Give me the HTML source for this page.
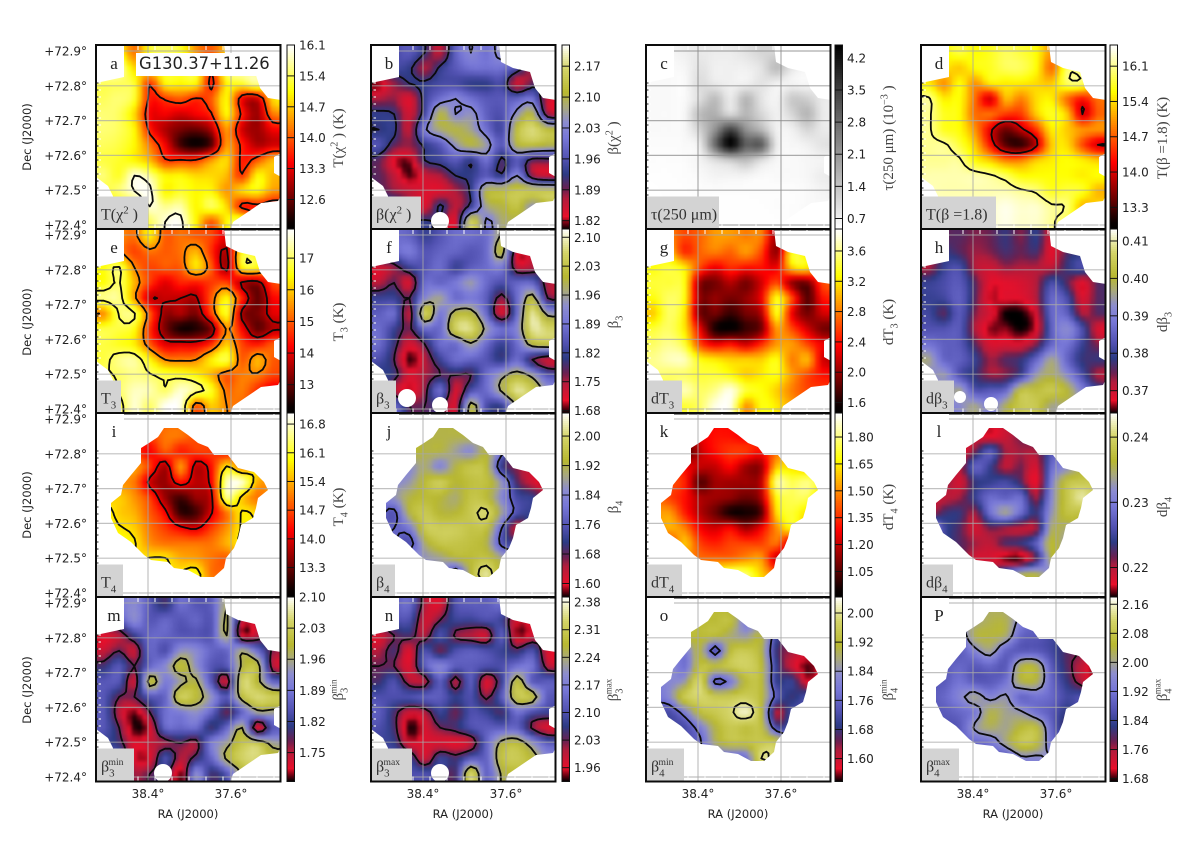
<!DOCTYPE html>
<html lang="en">
<head>
<meta charset="utf-8">
<title>G130.37+11.26 dust temperature and spectral index maps</title>
<style>
html,body{margin:0;padding:0;background:#fff;}
svg{display:block;}
</style>
</head>
<body>
<svg id="figure" xmlns="http://www.w3.org/2000/svg" width="1200" height="842" viewBox="0 0 1200 842">
<defs>
<filter id="soft" x="-10%" y="-10%" width="120%" height="120%" color-interpolation-filters="sRGB"><feGaussianBlur stdDeviation="1.7"/></filter>
<clipPath id="footprint-large"><polygon points="28,0 128,0 130,17 142,23 159,27 164,43 172,53 185,55 185,108 178,112 178,128 185,132 185,150 182,156 165,158 137,177 134,185 17,185 17,151 12,141 0,132 0,38 28,32"/></clipPath>
<clipPath id="footprint-small"><polygon points="68,15 82,15 92,22 102,30 112,34 118,42 132,42 142,55 158,59 168,69 172,77 162,85 160,95 157,105 145,112 142,125 138,135 130,145 128,155 118,164 105,164 92,157 78,155 72,149 55,147 48,142 35,129 22,120 15,105 15,90 25,82 27,72 35,62 45,50 45,35 53,30 62,24"/></clipPath>
</defs>
</svg>
<script>
const _ = null;

/* ---------- map values (12 x 12 coarse grid) ---------- */
const valuesA = [
[_,_,14.2,15.2,15.4,15.2,14.4,14.0,_,_,_,_],
[16,15.8,14.8,15,15.2,15.2,15.2,13.8,15.6,15.8,_,_],
[15.4,15.4,15.2,13.8,15,15,15,13.6,15,15.2,15.6,_],
[15.4,15.5,15.2,13.6,13.8,14,13.7,14,15,13.4,13.2,14.8],
[15.5,15.4,14.8,13.4,13.4,13.2,13.4,13.7,15,13.6,12.9,14.2],
[15.5,15.4,15,13.6,13,12.7,12.6,13,14.4,13.2,12.9,13.4],
[15.4,15.3,15,14.2,13.4,12.4,12.1,12.5,14.4,13.6,13,13.2],
[15.3,15.2,15,14.6,13.8,13.8,13.8,14.4,14.8,13.6,14,14.6],
[15.5,15.2,15.9,15.6,15,15,14.8,14.8,14.6,13.8,15,14.6],
[_,15.5,15.9,16,15,15.2,15,15,14.4,14.8,15,14.4],
[15,15,15.3,15.9,15.6,15.7,15,15.4,14.8,13.6,13.6,13.4],
[15,15,15,15.4,15.9,16,15,14,15,15.5,_,_]];
const valuesB = [
[_,1.95,1.97,1.92,1.86,1.98,2.03,2,2.05,_,_,_],
[1.95,1.95,1.93,1.87,1.93,1.97,2,2,2,_,_,_],
[1.82,1.88,1.92,1.93,1.95,1.95,1.93,1.93,1.95,1.85,1.9,_],
[1.87,1.88,1.84,1.94,2,2.03,2,1.97,1.97,1.98,2,1.85],
[1.93,1.92,1.85,1.95,2.1,2.03,2.05,1.98,1.96,2.05,2.1,1.88],
[1.92,1.93,1.86,2.02,2.08,2.1,2.07,2,1.95,2.12,2.17,2.12],
[1.96,1.9,1.88,1.93,1.97,2.05,2.1,2.06,1.97,2.1,2.12,2.1],
[1.9,1.83,1.82,1.92,1.94,1.97,1.93,2,1.91,1.97,1.9,1.9],
[1.9,1.86,1.81,1.85,1.87,1.92,1.93,1.97,1.93,2.03,1.88,1.85],
[_,1.88,1.86,1.84,1.84,1.87,1.93,2.1,2.12,2.14,2.14,2.14],
[1.95,1.95,1.88,1.84,1.93,1.86,1.94,2.07,2.1,2.13,2.05,_],
[1.95,1.95,1.92,1.93,1.9,1.84,2.15,2.02,2.08,_,_,_]];
const valuesC = [
[_,_,.7,.8,.75,.75,.9,1.1,_,_,_,_],
[.55,.55,.6,.9,.7,.7,.7,.9,1.5,_,_,_],
[.55,.55,.55,1,.8,.7,.7,.9,.7,.65,.6,_],
[.55,.55,.55,1,1.5,.8,1.6,.9,.65,1.3,1.2,.8],
[.55,.55,.6,1.5,1.7,1.1,1.6,1.1,.7,1.1,1.6,.8],
[.55,.55,.6,1.2,2.2,3.4,2.2,1.6,.7,.7,1.1,.8],
[.52,.52,.55,.8,2.8,4.4,3,3,.8,.6,.7,.9],
[.5,.5,.52,.65,1,1.3,1.5,1,.6,.55,.6,.65],
[.48,.48,.5,.55,.65,.65,.65,.55,.55,.55,.6,.75],
[_,.48,.48,.5,.5,.5,.5,.5,.5,.5,.55,.65],
[.48,.48,.48,.48,.48,.48,.48,.48,.5,.5,.55,_],
[.48,.48,.48,.48,.48,.48,.48,.48,.48,_,_,_]];
const valuesD = [
[_,_,15.8,15.6,15.7,15.9,15.8,15.6,15,_,_,_],
[_,_,15.3,15.6,15.7,15.9,15.9,15.6,14.8,15.9,_,_],
[15.5,15,15.6,15,15.5,15.5,15.5,15.4,15.3,15.9,15.9,_],
[16.1,15.5,15.6,14.8,14,15.2,14.9,15.4,15.5,14.8,14.3,14.8],
[16.1,15.7,15.6,14.8,14.8,14.5,14.5,15.3,15.7,15.3,14,14.7],
[16.1,15.7,15.6,15,14.1,13.5,13.9,14.5,15.5,15.3,15,15],
[16.1,16.1,15.8,15.3,14.3,13.4,13.2,13.9,15.3,15.4,14.6,14],
[16.1,16.1,16.1,15.6,15.3,14.9,14.9,15.3,15.5,15.6,15.5,15.3],
[16.2,16.2,16.2,16.2,16.1,15.9,15.6,15.6,15.6,15.6,15.5,15.6],
[_,16.2,16.2,16.2,16.2,16.2,16.1,16,15.7,15.8,15.7,15.2],
[16.3,16.3,16.3,16.3,16.3,16.4,16.3,16.3,16.1,16,15.2,_],
[16.3,16.3,16.3,16.3,16.3,16.4,16.3,16.3,16.1,_,_,_]];
const valuesE = [
[_,_,15.2,16.3,15,15.2,15,14.8,14,_,_,_],
[16.5,15.5,14.8,15.2,15,15.2,15.8,14.6,13.6,16.5,_,_],
[16.5,17,15.4,14.8,15,15,16.2,15,13.5,16.4,16.5,_],
[16.5,17,15.8,14.7,14,14.5,14.4,14.7,14.8,13.6,13.4,14.8],
[17.2,17.2,15.6,13.8,13.8,13.7,13.6,15,16.4,14.5,13,14.2],
[15.5,17,17,15,13.4,13.6,13.2,14.8,16.6,13.5,13.2,14],
[16.8,16.8,16.5,14.6,13.2,12.4,12.5,13.2,15.5,14.2,13,13.6],
[16.8,16.6,16.3,15,14,14,14,14.6,16,14.8,14.4,15],
[16.8,17.2,17.3,16.4,15.4,15.3,15.4,16.3,16.8,15,15.8,15],
[_,17,17.2,17,16.8,16.7,16.4,15.8,15,15.3,15.3,14.8],
[16.5,17,17.5,17.4,17,17.6,17.2,16.6,15.2,15.3,14.6,14],
[16.5,16.7,17.6,17,17.8,17.7,15,16,15.4,_,_,_]];
const valuesF = [
[_,1.88,1.87,1.82,1.85,1.88,1.88,1.88,1.98,_,_,_],
[1.86,1.87,1.9,1.85,1.87,1.87,1.85,1.88,2,1.72,_,_],
[1.72,1.76,1.82,1.85,1.88,1.82,1.86,1.88,1.9,1.74,1.75,_],
[1.74,1.78,1.72,1.88,1.87,1.9,1.95,1.88,1.84,1.87,1.87,1.75],
[1.82,1.82,1.78,1.92,1.96,1.88,1.9,1.86,1.76,1.88,2,1.78],
[1.86,1.88,1.74,2.05,1.9,2,2,1.88,1.72,1.88,2.08,1.95],
[1.88,1.82,1.77,1.88,1.88,2.05,2.07,1.95,1.88,1.92,2.08,2.06],
[1.88,1.8,1.72,1.78,1.88,1.88,1.96,1.88,1.82,1.88,2,2.02],
[1.84,1.78,1.68,1.74,1.82,1.88,1.87,1.85,1.81,1.88,1.78,1.73],
[_,1.8,1.72,1.75,1.78,1.78,1.78,1.88,1.95,2,1.95,1.85],
[1.88,1.75,1.7,1.76,1.88,1.72,1.84,1.88,1.98,2.08,2.04,_],
[1.88,1.88,1.78,1.78,1.8,1.72,2,1.84,1.82,_,_,_]];
const valuesG = [
[_,_,2.6,2.7,2.9,2.9,2.8,2.8,2,_,_,_],
[3.3,3.1,2.5,2.7,2.8,2.7,2.9,2.6,2,3.3,_,_],
[3.3,3.4,3.2,2.6,2.3,2.5,2.4,2.4,2.3,3.1,3.2,_],
[3.4,3.4,3.3,2,1.9,2.1,1.9,2.2,2.6,2,1.9,2.6],
[3.3,3.5,3.3,2,2,1.9,2,2.3,3.3,2.6,1.8,2.4],
[3.1,3.5,3.2,1.9,1.9,1.7,1.9,2.1,3.3,2.3,1.9,2.2],
[3.4,3.5,3.2,2.3,1.6,1.5,1.7,1.9,2.9,2.6,2.2,1.9],
[3.5,3.6,3.4,2.6,2.3,2.4,2.2,2.5,2.9,2.9,2.6,2.3],
[3.6,3.7,3.7,3.3,3.2,3.1,3.1,3.1,3.3,2.8,3,2.2],
[_,3.5,3.5,3.4,3.4,3.3,3.1,3.2,3.3,2.9,2.6,2.4],
[3.4,3.5,3.7,3.5,3.6,3.8,3.4,3.3,3.1,2.8,2.6,_],
[3.4,3.4,3.4,3.5,3.8,3.8,2.9,3.3,3.2,_,_,_]];
const valuesH = [
[_,_,.376,.374,.375,.378,.374,.379,.369,_,_,_],
[.372,.378,.376,.373,.374,.377,.375,.377,.368,.376,_,_],
[.372,.38,.382,.372,.37,.373,.372,.372,.371,.378,.382,_],
[.38,.382,.384,.376,.368,.368,.369,.372,.382,.376,.368,.376],
[.38,.381,.385,.376,.367,.368,.368,.372,.386,.382,.369,.376],
[.381,.376,.384,.374,.369,.364,.364,.369,.386,.385,.372,.376],
[.383,.383,.384,.372,.366,.366,.364,.368,.385,.392,.382,.369],
[.388,.385,.384,.376,.369,.369,.369,.374,.386,.388,.38,.374],
[.396,.386,.385,.38,.373,.376,.378,.386,.396,.386,.378,.378],
[_,.394,.383,.378,.373,.374,.38,.394,.398,.392,.382,.372],
[.39,.39,.396,.383,.384,.386,.402,.402,.404,.4,.39,_],
[.39,.39,.392,.396,.39,.398,.404,.404,.396,_,_,_]];
const valuesI = [
[_,_,_,_,_,_,_,_,_,_,_,_],
[_,_,_,14.6,15,15,14.7,_,_,_,_,_],
[_,_,_,14.2,14.8,14.4,14.6,14.6,14.3,_,_,_],
[_,_,15.3,14.6,13.7,15.2,13.8,14.3,15.8,15,_,_],
[_,15.2,15,13.9,13.6,14.3,13.8,14.2,16.7,16.8,15.4,_],
[15.5,15.6,15.2,14.6,13.6,13.1,13.6,13.9,16.5,15.6,15,_],
[16,15.6,15.4,14.8,14.2,13,13.1,14,15,15.8,15.6,_],
[16,15.8,15.6,15,14.6,14.2,14,14.6,15.2,15.8,_,_],
[_,16,15.8,15.2,15,15,15,15,15.4,15.8,_,_],
[_,_,_,15.8,15.8,15.4,15.3,15,14.8,_,_,_],
[_,_,_,_,_,15.8,16,15,_,_,_,_],
[_,_,_,_,_,_,_,_,_,_,_,_]];
const valuesJ = [
[_,_,_,_,_,_,_,_,_,_,_,_],
[_,_,_,1.92,1.92,1.92,1.92,_,_,_,_,_],
[_,_,1.94,1.92,1.92,1.88,1.85,1.92,_,_,_,_],
[_,1.86,1.85,1.9,1.84,1.92,1.96,1.94,1.72,1.66,1.62,_],
[_,1.85,1.87,1.94,1.98,1.93,1.95,1.95,1.86,1.69,1.62,1.57],
[_,1.86,1.92,1.94,1.93,1.9,1.96,1.94,1.84,1.74,1.72,_],
[_,1.76,1.92,1.97,1.93,1.93,1.97,2,1.88,1.75,1.72,_],
[_,1.78,1.82,1.97,1.98,1.98,1.96,1.95,1.78,1.62,1.72,_],
[_,_,1.75,1.9,1.96,1.96,1.95,1.92,1.76,1.72,_,_],
[_,_,_,1.86,1.88,1.92,1.94,1.96,1.9,_,_,_],
[_,_,_,_,1.86,1.72,1.93,2.02,1.92,_,_,_],
[_,_,_,_,_,_,_,_,_,_,_,_]];
const valuesK = [
[_,_,_,_,_,_,_,_,_,_,_,_],
[_,_,_,1.25,1.3,1.3,1.27,_,_,_,_,_],
[_,_,1.02,1.2,1.3,1.36,1.36,1.3,1.45,_,_,_],
[_,1.33,1.27,1.2,1.2,1.28,1.15,1.15,1.58,1.62,1.58,_],
[_,1.4,1.33,1.05,1.15,1.15,1.15,1.2,1.8,1.75,1.8,1.68],
[1.45,1.38,1.3,1.17,1.15,1.13,1.08,1.17,1.68,1.75,1.75,1.58],
[1.5,1.52,1.33,1.18,1.08,.96,.96,1.05,1.62,1.72,1.62,_],
[_,1.55,1.48,1.28,1.22,1.28,1.15,1.27,1.5,1.67,_,_],
[_,1.35,1.58,1.38,1.33,1.38,1.38,1.38,1.45,1.2,_,_],
[_,_,1.5,1.45,1.45,1.45,1.5,1.52,1.2,_,_,_],
[_,_,_,_,1.72,1.82,1.78,1.6,_,_,_,_],
[_,_,_,_,_,_,_,_,_,_,_,_]];
const valuesL = [
[_,_,_,_,_,_,_,_,_,_,_,_],
[_,_,_,.2185,.2175,.219,.2215,_,_,_,_,_],
[_,_,.217,.2215,.227,.2205,.2205,.2205,.2265,_,_,_],
[_,.2215,.2195,.2275,.2245,.2195,.2215,.2185,.2285,.2315,.2355,_],
[_,.2215,.2185,.2235,.2245,.2255,.2225,.2175,.2305,.2375,.2385,.2385],
[.219,.2195,.2205,.2245,.2285,.2275,.2285,.2205,.2315,.238,.2415,.238],
[.2195,.223,.2235,.2205,.229,.2335,.2285,.2235,.2325,.2375,.2375,_],
[.236,.2255,.2225,.2185,.2215,.2205,.2195,.2205,.2345,.2345,_,_],
[_,.2245,.2225,.2205,.2195,.2225,.2235,.2275,.2365,.2325,_,_],
[_,_,.2225,.2185,.2185,.2165,.2165,.2225,.2355,_,_,_],
[_,_,_,_,.2215,.2285,.2345,.2355,_,_,_,_],
[_,_,_,_,_,_,_,_,_,_,_,_]];
const valuesM = [
[_,_,1.92,1.85,1.8,1.88,1.85,1.86,1.97,_,_,_],
[1.85,1.85,1.92,1.85,1.87,1.85,1.87,1.85,1.98,1.75,_,_],
[1.72,1.75,1.82,1.87,1.87,1.85,1.85,1.85,1.97,1.72,1.75,_],
[1.74,1.78,1.74,1.87,1.84,1.93,1.92,1.87,1.87,1.96,1.88,1.77],
[1.8,1.85,1.78,1.87,1.92,2,1.93,1.85,1.85,1.98,2,1.75],
[1.85,1.85,1.74,2,1.9,1.95,1.98,1.85,1.74,2.04,1.99,1.87],
[1.85,1.78,1.78,1.85,1.87,2.03,2,1.93,1.85,2,2.05,2.03],
[1.85,1.75,1.7,1.78,1.88,1.9,1.93,1.87,1.78,1.87,1.95,1.95],
[1.85,1.78,1.69,1.72,1.87,1.87,1.88,1.8,1.87,1.97,1.72,1.85],
[_,1.8,1.72,1.74,1.76,1.78,1.76,1.9,1.95,2.02,2.02,1.95],
[1.85,1.85,1.72,1.72,1.84,1.75,1.8,1.87,1.98,2.04,2.05,_],
[1.85,1.85,1.76,1.78,1.8,1.7,1.92,1.8,1.85,_,_,_]];
const valuesN = [
[_,2.12,2.14,2,1.97,2.1,2.12,2.12,2.14,_,_,_],
[2.1,2.1,2.1,1.98,2.03,2.08,2.08,2.1,2.08,1.97,_,_],
[1.97,2.03,2.05,2,2.1,2.02,2,1.98,2.12,1.95,1.98,_],
[2,2.05,1.97,2.1,2.03,2.1,2.12,2.1,2.08,2.05,2.1,1.97],
[2.03,2.03,1.97,2.12,2.18,2.12,2.12,2.1,2.1,2.15,2.15,2],
[2.05,2.1,2,2,2.12,2,2.12,1.97,2.08,2.28,2.12,2.12],
[2.1,2.1,2.1,2.12,2.12,2.07,2.1,2.02,2.12,2.3,2.28,2.12],
[2.12,2.05,1.98,2,2.08,2.03,2.1,2.08,2.05,2.15,2.1,2.08],
[2.1,2.05,1.93,1.97,2.03,2.05,2.1,2.12,2.12,2.13,2.02,1.97],
[_,2.07,1.97,1.97,1.97,1.96,1.99,2.13,2.26,2.28,2.2,2.12],
[2.1,2.1,2.08,1.98,2.08,2.05,2.12,2.13,2.29,2.31,2.27,_],
[2.1,2.1,2.1,2.1,2.08,2.05,2.33,2.13,2.25,_,_,_]];
const valuesO = [
[_,_,_,_,_,_,_,_,_,_,_,_],
[_,_,_,1.92,1.92,1.93,1.8,_,_,_,_,_],
[_,_,1.92,1.92,1.92,1.88,1.85,1.9,1.72,_,_,_],
[_,1.85,1.8,1.9,1.73,1.92,1.95,1.9,1.68,1.63,1.6,_],
[_,1.85,1.78,1.93,1.92,1.95,1.97,1.92,1.7,1.6,1.55,1.58],
[1.8,1.82,1.85,1.98,1.75,1.8,1.92,1.92,1.7,1.7,1.58,_],
[1.78,1.82,1.95,1.98,1.95,1.95,1.96,1.92,1.74,1.68,1.72,_],
[1.75,1.72,1.8,1.92,1.95,1.98,2.02,1.92,1.62,1.72,1.72,_],
[_,1.72,1.72,1.8,1.9,1.95,1.93,1.93,1.72,1.72,_,_],
[_,_,_,1.76,1.88,1.93,1.93,1.95,1.95,_,_,_],
[_,_,_,_,1.75,1.75,1.78,1.99,_,_,_,_],
[_,_,_,_,_,_,_,_,_,_,_,_]];
const valuesP = [
[_,_,_,_,_,_,_,_,_,_,_,_],
[_,_,_,2,2.03,2.03,1.95,_,_,_,_,_],
[_,_,1.92,2.03,2.04,2.02,1.9,1.88,1.85,_,_,_],
[_,1.88,1.88,1.95,2,1.9,1.88,1.88,1.85,1.8,1.78,_],
[_,1.88,1.9,1.88,1.9,1.88,2.03,2.03,1.88,1.8,1.74,1.68],
[1.88,1.88,1.92,1.88,1.88,1.92,2.03,2.03,1.9,1.82,1.75,1.7],
[1.88,1.9,1.95,2,1.95,1.98,1.9,1.92,1.9,1.85,1.86,_],
[_,1.88,1.9,1.93,2.03,2,1.98,1.92,1.88,1.82,1.85,_],
[_,1.87,1.88,1.98,2.02,2,2.05,2.06,1.9,1.8,_,_],
[_,_,1.9,1.9,1.92,2,2.08,2.06,1.92,_,_,_],
[_,_,_,_,1.88,1.86,1.95,1.95,_,_,_,_],
[_,_,_,_,_,_,_,_,_,_,_,_]];

/* ---------- colour bar ranges and tick labels ---------- */
const rangeA = [11.92,16.1];   const ticksA = ['16.1','15.4','14.7','14.0','13.3','12.6'];
const rangeB = [1.80,2.218];   const ticksB = ['2.17','2.10','2.03','1.96','1.89','1.82'];
const rangeC = [0.46,4.48];    const ticksC = ['4.2','3.5','2.8','2.1','1.4','0.7'];
const rangeD = [12.86,16.52];  const ticksD = ['16.1','15.4','14.7','14.0','13.3'];
const rangeE = [12.09,17.92];  const ticksE = ['17','16','15','14','13'];
const rangeF = [1.673,2.12];   const ticksF = ['2.10','2.03','1.96','1.89','1.82','1.75','1.68'];
const rangeG = [1.455,3.89];   const ticksG = ['3.6','3.2','2.8','2.4','2.0','1.6'];
const rangeH = [.3639,.4132];  const ticksH = ['0.41','0.40','0.39','0.38','0.37'];
const rangeI = [12.57,17.07];  const ticksI = ['16.8','16.1','15.4','14.7','14.0','13.3'];
const rangeJ = [1.562,2.0626]; const ticksJ = ['2.00','1.92','1.84','1.76','1.68','1.60'];
const rangeK = [.905,1.934];   const ticksK = ['1.80','1.65','1.50','1.35','1.20','1.05'];
const rangeL = [.2154,.2437];  const ticksL = ['0.24','0.23','0.22'];
const rangeM = [1.685,2.10];   const ticksM = ['2.10','2.03','1.96','1.89','1.82','1.75'];
const rangeN = [1.925,2.393];  const ticksN = ['2.38','2.31','2.24','2.17','2.10','2.03','1.96'];
const rangeO = [1.537,2.044];  const ticksO = ['2.00','1.92','1.84','1.76','1.68','1.60'];
const rangeP = [1.672,2.18];   const ticksP = ['2.16','2.08','2.00','1.92','1.84','1.76','1.68'];

/* ---------- contour levels ---------- */
const contoursA = [13.75,15.9];
const contoursB = [1.92,2.03];
const contoursD = [14.0,16.05];
const contoursE = [13.7,15.4,16.95];
const contoursF = [1.78,1.97];
const contoursI = [14.05,15.75];
const contoursJ = [1.78,1.99];
const contoursM = [1.78,1.97];
const contoursN = [2.03,2.24];
const contoursO = [1.77,1.99];
const contoursP = [1.78,1.97];

/* ---------- coordinate axes ---------- */
const decTicks = [72.9,72.8,72.7,72.6,72.5,72.4];
const raTicks = [38.4,37.6];

/* ---------- colour maps ---------- */
const hotStops = [[0,255,255,255],[.03,255,255,235],[.254,255,255,0],[.635,255,0,0],[.96,10,0,0],[1,0,0,0]];
const greyStops = [[0,255,255,255],[1,0,0,0]];
const betaStops = [[0,0,0,0],[.03,96,0,16],[.07,232,15,42],[.17,176,28,60],[.22,106,32,80],[.30,44,58,132],[.38,80,80,176],[.50,120,120,216],[.58,140,140,208],[.66,168,168,128],[.74,184,184,48],[.87,212,212,104],[.95,240,240,192],[1,255,255,255]];

const hotMap = t => lookup(hotStops, 1 - t);
const greyMap = t => lookup(greyStops, t);
const betaMap = t => lookup(betaStops, t);

function lookup(stops, t) {
  t = Math.max(0, Math.min(1, t));
  for (let i = 1; i < stops.length; i++) {
    if (t <= stops[i][0]) {
      const a = stops[i-1], b = stops[i], f = (t - a[0]) / (b[0] - a[0]);
      return 'rgb(' + [1,2,3].map(k => Math.round(a[k] + (b[k]-a[k]) * f)).join(',') + ')';
    }
  }
  const e = stops[stops.length-1];
  return 'rgb(' + e[1] + ',' + e[2] + ',' + e[3] + ')';
}

/* ---------- layout ---------- */
const colX = [96,371,646,921];
const rowY = [45,229,413,597];
const barX = [287,562,835,1110];
const titleX = [343,618,893,1167];
const titleY = [138,322,507,690];
const decTitleY = [137,322,505,690];
const PANEL = 184.5;

const T = 'T', B = '\u03B2', C = '\u03C7';
const panels = [
 {id:'a',r:0,c:0,values:valuesA,range:rangeA,ticks:ticksA,map:hotMap,levels:contoursA,fp:'large',box:52,label:[[T+'(',0],[C,0],['2',1],[' )',0]],title:[[T+'(',0],[C,0],['2',1],[' ) (K)',0]]},
 {id:'b',r:0,c:1,values:valuesB,range:rangeB,ticks:ticksB,map:betaMap,levels:contoursB,fp:'large',box:50,holes:[[69,176,9]],label:[[B+'(',0],[C,0],['2',1],[' )',0]],title:[[B+'(',0],[C,0],['2',1],[' )',0]]},
 {id:'c',r:0,c:2,values:valuesC,range:rangeC,ticks:ticksC,map:greyMap,levels:[],fp:'large',box:73,label:[['\u03C4(250 \u03BCm)',0]],title:[['\u03C4(250 \u03BCm) (10',0],['\u22123',1],[' )',0]]},
 {id:'d',r:0,c:3,values:valuesD,range:rangeD,ticks:ticksD,map:hotMap,levels:contoursD,fp:'large',box:75,label:[[T+'('+B+' =1.8)',0]],title:[[T+'('+B+' =1.8) (K)',0]]},
 {id:'e',r:1,c:0,values:valuesE,range:rangeE,ticks:ticksE,map:hotMap,levels:contoursE,fp:'large',box:25,label:[[T,0],['3',-1]],title:[[T,0],['3',-1],[' (K)',0]]},
 {id:'f',r:1,c:1,values:valuesF,range:rangeF,ticks:ticksF,map:betaMap,levels:contoursF,fp:'large',box:25,holes:[[36,169,9],[69,176,8]],label:[[B,0],['3',-1]],title:[[B,0],['3',-1]]},
 {id:'g',r:1,c:2,values:valuesG,range:rangeG,ticks:ticksG,map:hotMap,levels:[],fp:'large',box:36,label:[['d'+T,0],['3',-1]],title:[['d'+T,0],['3',-1],[' (K)',0]]},
 {id:'h',r:1,c:3,values:valuesH,range:rangeH,ticks:ticksH,map:betaMap,levels:[],fp:'large',box:33,holes:[[70,175,7],[39,168,6]],label:[['d'+B,0],['3',-1]],title:[['d'+B,0],['3',-1]]},
 {id:'i',r:2,c:0,values:valuesI,range:rangeI,ticks:ticksI,map:hotMap,levels:contoursI,fp:'small',box:27,label:[[T,0],['4',-1]],title:[[T,0],['4',-1],[' (K)',0]]},
 {id:'j',r:2,c:1,values:valuesJ,range:rangeJ,ticks:ticksJ,map:betaMap,levels:contoursJ,fp:'small',box:24,label:[[B,0],['4',-1]],title:[[B,0],['4',-1]]},
 {id:'k',r:2,c:2,values:valuesK,range:rangeK,ticks:ticksK,map:hotMap,levels:[],fp:'small',box:36,label:[['d'+T,0],['4',-1]],title:[['d'+T,0],['4',-1],[' (K)',0]]},
 {id:'l',r:2,c:3,values:valuesL,range:rangeL,ticks:ticksL,map:betaMap,levels:[],fp:'small',box:32,label:[['d'+B,0],['4',-1]],title:[['d'+B,0],['4',-1]]},
 {id:'m',r:3,c:0,values:valuesM,range:rangeM,ticks:ticksM,map:betaMap,levels:contoursM,fp:'large',box:38,holes:[[67,176,9]],label:[[B,0],['3',-1],['min',2]],title:[[B,0],['3',-1],['min',2]]},
 {id:'n',r:3,c:1,values:valuesN,range:rangeN,ticks:ticksN,map:betaMap,levels:contoursN,fp:'large',box:41,holes:[[69,176,9]],label:[[B,0],['3',-1],['max',2]],title:[[B,0],['3',-1],['max',2]]},
 {id:'o',r:3,c:2,values:valuesO,range:rangeO,ticks:ticksO,map:betaMap,levels:contoursO,fp:'small',box:38,label:[[B,0],['4',-1],['min',2]],title:[[B,0],['4',-1],['min',2]]},
 {id:'p',r:3,c:3,values:valuesP,range:rangeP,ticks:ticksP,map:betaMap,levels:contoursP,fp:'small',box:38,letter:'P',label:[[B,0],['4',-1],['max',2]],title:[[B,0],['4',-1],['max',2]]}
];

/* ---------- helpers ---------- */
const NS = 'http://www.w3.org/2000/svg';
const root = document.getElementById('figure');
function mk(tag, attrs, parent) {
  const e = document.createElementNS(NS, tag);
  for (const k in attrs) e.setAttribute(k, attrs[k]);
  parent.appendChild(e);
  return e;
}
function richText(parent, x, y, segs, attrs) {
  const t = mk('text', Object.assign({x: x, y: y}, attrs), parent);
  const size = parseFloat(attrs['font-size']);
  let cur = 0;
  segs.forEach(s => {
    const ts = document.createElementNS(NS, 'tspan');
    ts.textContent = s[0];
    let target = 0, fs = size, dx = 0;
    if (s[1] === 1) { target = -size * .38; fs = size * .68; }
    if (s[1] === -1) { target = size * .3; fs = size * .68; }
    if (s[1] === 2) { target = -size * .42; fs = size * .6; dx = -size * .38; }
    ts.setAttribute('dy', target - cur);
    ts.setAttribute('font-size', fs);
    if (dx) ts.setAttribute('dx', dx);
    cur = target;
    t.appendChild(ts);
  });
  return t;
}
function fillNulls(values) {
  const g = values.map(r => r.slice());
  for (let pass = 0; pass < 14; pass++) {
    const snap = g.map(r => r.slice());
    for (let j = 0; j < 12; j++) for (let i = 0; i < 12; i++) {
      if (snap[j][i] !== null) continue;
      let s = 0, n = 0;
      for (let dj = -1; dj <= 1; dj++) for (let di = -1; di <= 1; di++) {
        const v = (snap[j+dj] || [])[i+di];
        if (v !== undefined && v !== null) { s += v; n++; }
      }
      if (n) g[j][i] = s / n;
    }
  }
  return g.map(r => r.map(v => v === null ? 0 : v));
}
function cr(a, b, c, d, f) {
  return .5 * (2*b + (c-a)*f + (2*a-5*b+4*c-d)*f*f + (3*b-a-3*c+d)*f*f*f);
}
function sample(g, u, v) {
  const iu = Math.floor(u), iv = Math.floor(v), fu = u-iu, fv = v-iv;
  const at = (j, i) => g[Math.max(0, Math.min(11, j))][Math.max(0, Math.min(11, i))];
  const row = j => cr(at(j,iu-1), at(j,iu), at(j,iu+1), at(j,iu+2), fu);
  return cr(row(iv-1), row(iv), row(iv+1), row(iv+2), fv);
}
const UP = 36, CS = PANEL / UP, COARSE = PANEL / 12;
function decY(v) { return 6 + (72.9 - v) * 348; }
function raX(v) { return 52 + (38.4 - v) * 103.75; }

function contourPath(fine, level) {
  let d = '';
  const n = fine.length;
  const pos = k => (k - 1 + .5) * CS;
  for (let j = 0; j < n-1; j++) for (let i = 0; i < n-1; i++) {
    const a = fine[j][i], b = fine[j][i+1], c = fine[j+1][i+1], e = fine[j+1][i];
    const pts = [];
    if ((a < level) !== (b < level)) pts.push([pos(i) + (level-a)/(b-a)*CS, pos(j)]);
    if ((b < level) !== (c < level)) pts.push([pos(i+1), pos(j) + (level-b)/(c-b)*CS]);
    if ((e < level) !== (c < level)) pts.push([pos(i) + (level-e)/(c-e)*CS, pos(j+1)]);
    if ((a < level) !== (e < level)) pts.push([pos(i), pos(j) + (level-a)/(e-a)*CS]);
    if (pts.length >= 2) d += 'M' + pts[0][0].toFixed(1) + ' ' + pts[0][1].toFixed(1) + 'L' + pts[1][0].toFixed(1) + ' ' + pts[1][1].toFixed(1);
    if (pts.length === 4) d += 'M' + pts[2][0].toFixed(1) + ' ' + pts[2][1].toFixed(1) + 'L' + pts[3][0].toFixed(1) + ' ' + pts[3][1].toFixed(1);
  }
  return d;
}

/* ---------- draw ---------- */
const SANS = '"DejaVu Sans","Liberation Sans",sans-serif';
const SERIF = '"Liberation Serif",serif';

panels.forEach(p => {
  const px = colX[p.c], py = rowY[p.r];
  const [vmin, vmax] = p.range;
  const tOf = v => (v - vmin) / (vmax - vmin);

  const panel = mk('g', {transform: 'translate(' + px + ' ' + py + ')'}, root);
  
  

  const clip = mk('g', {'clip-path': 'url(#footprint-' + p.fp + ')'}, panel);
  
  

  const heat = mk('g', {filter: 'url(#soft)'}, clip);
  
  

  const g = fillNulls(p.values);
  const fine = [];
  for (let j = -1; j <= UP; j++) {
    const row = [];
    for (let i = -1; i <= UP; i++) {
      const v = sample(g, (i + .5) * CS / COARSE - .5, (j + .5) * CS / COARSE - .5);
      row.push(v);
      const cell = mk('rect', {x: (i*CS).toFixed(2), y: (j*CS).toFixed(2), width: (CS+.6).toFixed(2), height: (CS+.6).toFixed(2), fill: p.map(tOf(v))}, heat);
      
      
    }
    fine.push(row);
  }

  p.levels.forEach(level => {
    const line = mk('path', {d: contourPath(fine, level), fill: 'none', stroke: '#0a0a0a', 'stroke-width': 1.8, 'stroke-linecap': 'round'}, clip);
    
    
  });

  (p.holes || []).forEach(h => {
    const hole = mk('circle', {cx: h[0], cy: h[1], r: h[2], fill: '#fff'}, clip);
    
    
  });

  const gridColor = p.map === greyMap ? '#8a8a8a' : '#a8a8a8';
  decTicks.forEach(v => {
    const l = mk('line', {x1: 0, x2: PANEL, y1: decY(v), y2: decY(v), stroke: gridColor, 'stroke-width': 1.2, opacity: .7}, panel);
    
    
  });
  raTicks.forEach(v => {
    const l = mk('line', {x1: raX(v), x2: raX(v), y1: 0, y2: PANEL, stroke: gridColor, 'stroke-width': 1.2, opacity: .7}, panel);
    
    
  });

  for (let y = 3; y < PANEL; y += 7) {
    const l1 = mk('line', {x1: 1, x2: 5, y1: y, y2: y, stroke: '#fff', 'stroke-width': 1}, panel);
    
    
    const l2 = mk('line', {x1: 0, x2: 2.5, y1: y, y2: y, stroke: '#222', 'stroke-width': 1}, panel);
    
    
  }
  for (let x = 8; x < PANEL; x += 17) {
    const l3 = mk('line', {x1: x, x2: x, y1: 1, y2: 5, stroke: '#fff', 'stroke-width': 1}, panel);
    
    
    const l4 = mk('line', {x1: x, x2: x, y1: PANEL-5, y2: PANEL-1, stroke: '#fff', 'stroke-width': 1}, panel);
    
    
  }

  const letterBox = mk('rect', {x: 0, y: 0, width: 28, height: 32, fill: '#fff'}, panel);
  
  
  const letter = mk('text', {x: 18, y: 24, 'font-family': SERIF, 'font-size': 17, 'text-anchor': 'middle', fill: '#222'}, panel);
  letter.textContent = p.letter || p.id;
  
  

  const labelBox = mk('rect', {x: 0, y: PANEL - 33, width: p.box, height: 33, fill: '#d3d3d3'}, panel);
  
  
  const quantity = richText(panel, 5, PANEL - 10, p.label, {'font-family': SERIF, 'font-size': 16, fill: '#333'});
  
  

  const frame = mk('rect', {x: 0, y: 0, width: PANEL, height: PANEL, fill: 'none', stroke: '#0c0c0c', 'stroke-width': 2}, panel);
  
  

  /* colour bar */
  const bar = mk('g', {transform: 'translate(' + barX[p.c] + ' ' + py + ')'}, root);
  
  
  const yOf = v => (vmax - v) / (vmax - vmin) * PANEL;
  const steps = 92;
  for (let s = 0; s < steps; s++) {
    const t = 1 - (s + .5) / steps;
    const band = mk('rect', {x: 0, y: (s * PANEL / steps).toFixed(2), width: 7.5, height: (PANEL / steps + .5).toFixed(2), fill: p.map(t), 'shape-rendering': 'crispEdges'}, bar);
    
    
  }
  const barFrame = mk('rect', {x: 0, y: 0, width: 7.5, height: PANEL, fill: 'none', stroke: '#111', 'stroke-width': 1}, bar);
  
  
  p.ticks.forEach(lbl => {
    const y = yOf(Number(lbl));
    const t1 = mk('line', {x1: 0, x2: 7.5, y1: y, y2: y, stroke: '#111', 'stroke-width': 1}, bar);
    
    
    const tl = mk('text', {x: 12, y: y + 4.5, 'font-family': SANS, 'font-size': 12, fill: '#222'}, bar);
    tl.textContent = lbl;
    
    
  });

  const tx = titleX[p.c], ty = titleY[p.r];
  const title = richText(root, 0, 0, p.title, {'font-family': SERIF, 'font-size': 15, fill: '#444', 'text-anchor': 'middle', transform: 'translate(' + tx + ' ' + ty + ') rotate(-90)'});
  
  

  /* coordinate labels */
  if (p.c === 0) {
    decTicks.forEach(v => {
      const dl = mk('text', {x: 87, y: py + decY(v) + 4.5, 'font-family': SANS, 'font-size': 12, 'text-anchor': 'end', fill: '#222'}, root);
      dl.textContent = '+' + v.toFixed(1) + '\u00B0';
      
      
    });
    const dt = mk('text', {'font-family': SANS, 'font-size': 11.5, 'text-anchor': 'middle', fill: '#222', transform: 'translate(31 ' + decTitleY[p.r] + ') rotate(-90)'}, root);
    dt.textContent = 'Dec (J2000)';
    
    
  }
  if (p.r === 3) {
    raTicks.forEach(v => {
      const rl = mk('text', {x: px + raX(v), y: 798, 'font-family': SANS, 'font-size': 12, 'text-anchor': 'middle', fill: '#222'}, root);
      rl.textContent = v.toFixed(1) + '\u00B0';
      
      
    });
    const rt = mk('text', {x: px + 92, y: 818, 'font-family': SANS, 'font-size': 11.5, 'text-anchor': 'middle', fill: '#222'}, root);
    rt.textContent = 'RA (J2000)';
    
    
  }
});

/* source name */
const nameBox = mk('rect', {x: 136, y: 53, width: 142, height: 23, fill: '#fff'}, root);


const nameText = mk('text', {x: 139, y: 69, 'font-family': SANS, 'font-size': 16.4, fill: '#222'}, root);
nameText.textContent = 'G130.37+11.26';


</script>
</body>
</html>
